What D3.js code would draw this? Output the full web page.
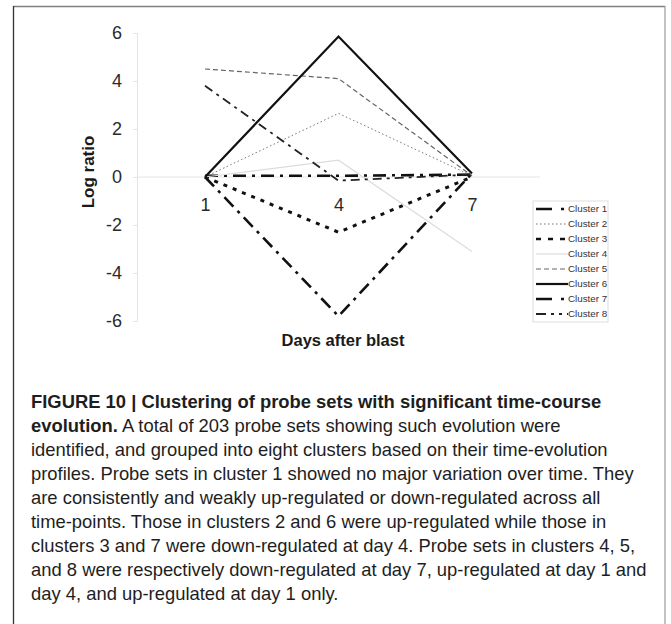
<!DOCTYPE html>
<html>
<head>
<meta charset="utf-8">
<script src="https://cdn.jsdelivr.net/npm/d3@7"></script>
<style>
  body { margin: 0; background: #fff; }
  svg { display: block; font-family: "Liberation Sans", Arial, sans-serif; }
</style>
</head>
<body>
<svg width="671" height="624"></svg>
<script>
// data
const days = [1, 4, 7];
const clusters = ["Cluster 1", "Cluster 2", "Cluster 3", "Cluster 4", "Cluster 5", "Cluster 6", "Cluster 7", "Cluster 8"];
const cluster1 = [0.05, 0.05, 0.1];
const cluster2 = [0, 2.65, 0.05];
const cluster3 = [0, -2.3, 0];
const cluster4 = [0, 0.7, -3.1];
const cluster5 = [4.5, 4.1, 0.05];
const cluster6 = [0, 5.85, 0.15];
const cluster7 = [0, -5.8, 0.15];
const cluster8 = [3.8, -0.15, 0.1];
const yTicks = [-6, -4, -2, 0, 2, 4, 6];

const captionLines = [
  [["FIGURE 10 | Clustering of probe sets with significant time-course", true]],
  [["evolution.", true], [" A total of 203 probe sets showing such evolution were", false]],
  [["identified, and grouped into eight clusters based on their time-evolution", false]],
  [["profiles. Probe sets in cluster 1 showed no major variation over time. They", false]],
  [["are consistently and weakly up-regulated or down-regulated across all", false]],
  [["time-points. Those in clusters 2 and 6 were up-regulated while those in", false]],
  [["clusters 3 and 7 were down-regulated at day 4. Probe sets in clusters 4, 5,", false]],
  [["and 8 were respectively down-regulated at day 7, up-regulated at day 1 and", false]],
  [["day 4, and up-regulated at day 1 only.", false]]
];

let series = [cluster1, cluster2, cluster3, cluster4, cluster5, cluster6, cluster7, cluster8];

// line styles per cluster (legend gets its own dash so the short sample reads right)
let styles = [
  {stroke: "#111", width: 2.6, dash: "13,6,3,6", key: "16,9,3,7"},
  {stroke: "#777", width: 1, dash: "1.5,2.5", key: "1.5,2.5"},
  {stroke: "#111", width: 3, dash: "4,6", key: "5,7"},
  {stroke: "#dcdcdc", width: 1.2, dash: null, key: null},
  {stroke: "#666", width: 1.2, dash: "5,3", key: "5,3"},
  {stroke: "#111", width: 2.2, dash: null, key: null},
  {stroke: "#111", width: 2.6, dash: "13,6,3,6", key: "16,9,3,7"},
  {stroke: "#222", width: 1.8, dash: "9,5,3,5", key: "10,5,3,5,3,5"}
];

let svg = d3.select("svg");

// frame round the figure
svg.append("line").attr("x1", 13).attr("x2", 665).attr("y1", 6.5).attr("y2", 6.5)
  .attr("stroke", "#808080").attr("stroke-width", 1.5);
svg.append("line").attr("x1", 13.5).attr("x2", 13.5).attr("y1", 6).attr("y2", 624)
  .attr("stroke", "#333").attr("stroke-width", 1.3);
svg.append("line").attr("x1", 665).attr("x2", 665).attr("y1", 6).attr("y2", 624)
  .attr("stroke", "#999").attr("stroke-width", 1.2);

let xScale = d3.scaleLinear().domain([1, 7]).range([205, 472]);
let yScale = d3.scaleLinear().domain([-6, 6]).range([321, 33]);
let axisX = 137;

let g = svg.append("g");

// y axis
let yAxis = d3.axisLeft(yScale).tickValues(yTicks).tickSize(4).tickPadding(11)
  .tickFormat(d => String(d));
let yg = g.append("g").attr("transform", "translate(" + axisX + ",0)").call(yAxis);
yg.select(".domain").attr("stroke", "#e4e4e4");
yg.selectAll(".tick line").attr("stroke", "#e4e4e4");
yg.selectAll("text").attr("font-size", 18).attr("fill", "#2a2a2a")
  .attr("font-family", "Liberation Sans, Arial, sans-serif");

// x axis sits on zero
let xAxis = d3.axisBottom(xScale).tickValues(days).tickSize(0).tickPadding(21)
  .tickFormat(d => String(d));
let xg = g.append("g").attr("transform", "translate(0," + yScale(0) + ")").call(xAxis);
xg.select(".domain").remove();
xg.selectAll("text").attr("font-size", 18).attr("fill", "#2a2a2a")
  .attr("font-family", "Liberation Sans, Arial, sans-serif");
g.insert("line", ":first-child")
  .attr("x1", axisX).attr("x2", 540)
  .attr("y1", yScale(0)).attr("y2", yScale(0))
  .attr("stroke", "#e4e4e4");

// axis titles
g.append("text")
  .attr("transform", "translate(94," + 172 + ") rotate(-90)")
  .attr("text-anchor", "middle")
  .attr("font-weight", "bold").attr("font-size", 17).attr("fill", "#1a1a1a")
  .text("Log ratio");
g.append("text")
  .attr("x", 343).attr("y", 346)
  .attr("text-anchor", "middle")
  .attr("font-weight", "bold").attr("font-size", 16.5).attr("fill", "#1a1a1a")
  .text("Days after blast");

// cluster lines
let line = d3.line()
  .x((d, i) => xScale(days[i]))
  .y(d => yScale(d));

g.selectAll(".cluster")
  .data(series)
  .enter().append("path")
  .attr("class", "cluster")
  .attr("d", line)
  .attr("fill", "none")
  .attr("stroke", (d, i) => styles[i].stroke)
  .attr("stroke-width", (d, i) => styles[i].width)
  .attr("stroke-dasharray", (d, i) => styles[i].dash);

// legend
let legend = svg.append("g").attr("transform", "translate(533,201)");
legend.append("rect").attr("width", 75).attr("height", 121)
  .attr("fill", "#fff").attr("stroke", "#dedede");
let rows = legend.selectAll(".row")
  .data(clusters)
  .enter().append("g")
  .attr("class", "row")
  .attr("transform", (d, i) => "translate(0," + (8 + i * 15) + ")");
rows.append("line")
  .attr("x1", 3).attr("x2", 35)
  .attr("stroke", (d, i) => styles[i].stroke)
  .attr("stroke-width", (d, i) => Math.min(styles[i].width, 2.4))
  .attr("stroke-dasharray", (d, i) => styles[i].key);
rows.append("text")
  .attr("x", 35).attr("dy", "0.35em")
  .attr("font-size", 9.8).attr("fill", "#333")
  .text(d => d);

// caption
let cap = svg.append("text")
  .attr("font-size", 18.4).attr("fill", "#1e1e1e")
  .attr("font-family", "Liberation Sans, Arial, sans-serif");
captionLines.forEach(function (parts, i) {
  parts.forEach(function (p, j) {
    let t = cap.append("tspan").text(p[0])
      .attr("font-weight", p[1] ? "bold" : "normal");
    if (j === 0) t.attr("x", 31).attr("y", 408 + i * 24);
  });
});
</script>
</body>
</html>
